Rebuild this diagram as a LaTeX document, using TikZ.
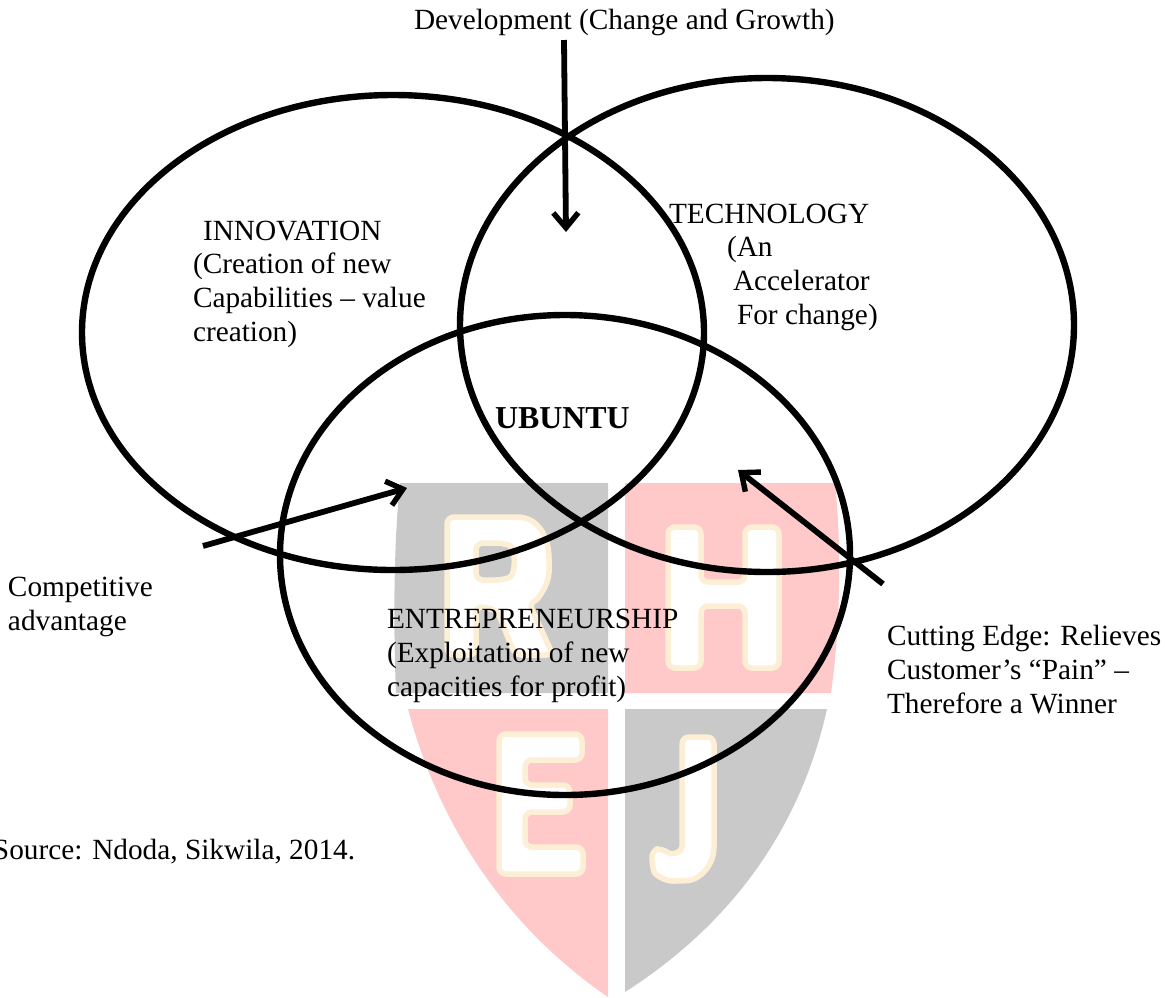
\documentclass[tikz,border=0pt]{standalone}
\usepackage{fontspec}
\setmainfont{Liberation Serif}
\usetikzlibrary{arrows.meta}
\definecolor{wmgray}{HTML}{C9C9C9}
\definecolor{wmred}{HTML}{FFC9C9}
\definecolor{wmcream}{HTML}{FDEFD5}
\tikzset{
  x=1pt,y=-1pt,
  venn/.style={draw=black,line width=6.4pt},
  pointer/.style={draw=black,line width=5.8pt,-{Straight Barb[length=15pt,width=25pt,line width=5.4pt]}},
  lbl/.style={inner sep=0pt,outer sep=0pt,anchor=base west,align=left,font=\fontsize{29.3}{33.6}\selectfont},
  letter/.style={fill=white,draw=wmcream,line width=5.5pt,rounded corners=7pt},
}
\begin{document}
\begin{tikzpicture}
\useasboundingbox (0,0) rectangle (1165,997);
% watermark shield
\fill[wmgray] (400,483) -- (608,483) -- (608,693) -- (396,693) .. controls (393,620) and (394,540) .. (400,483) -- cycle;
\fill[wmred] (625,483) -- (835,483) .. controls (842,550) and (840,630) .. (831,693) -- (625,693) -- cycle;
\fill[wmred] (408,709) -- (608,709) -- (608,997) .. controls (510,930) and (440,830) .. (408,709) -- cycle;
\fill[wmgray] (625,709) -- (827,709) .. controls (800,830) and (730,925) .. (625,992) -- cycle;
% letters
\path[letter,even odd rule] (447,517) -- (510,517) .. controls (540,517) and (549,540) .. (549,565) .. controls (549,585) and (537,600) .. (529,603) -- (553,655) -- (515,655) -- (497,610) -- (476,606) -- (476,655) -- (447,655) -- cycle
   (476,543) -- (476,580) -- (503,580) .. controls (516,575) and (516,548) .. (503,543) -- cycle;
\path[letter] (668,527) -- (701,527) -- (701,582) -- (745,582) -- (745,527) -- (779,527) -- (779,668) -- (745,668) -- (745,606) -- (701,606) -- (701,668) -- (668,668) -- cycle;
\path[letter] (499,734) -- (582,734) -- (582,760) -- (525,760) -- (525,785) -- (570,785) -- (570,812) -- (525,812) -- (525,847) -- (583,847) -- (583,874) -- (499,874) -- cycle;
\path[letter] (682,737) -- (714,737) -- (714,840) .. controls (714,865) and (700,880) .. (680,881) .. controls (665,881) and (655,875) .. (652,865) -- (652,850) -- (662,848) .. controls (672,856) and (682,852) .. (682,840) -- cycle;
% ellipses
\draw[venn] (393,332.5) ellipse [x radius=311,y radius=237.5];
\draw[venn] (767,325) ellipse [x radius=307,y radius=247];
\draw[venn] (565,555) ellipse [x radius=285,y radius=240];
% labels
\node[lbl] (dev) at (414,29) {Development (Change and Growth)};
\node[lbl] (inn) at (193,341) {\hspace*{10pt}INNOVATION\\(Creation of new\\Capabilities – value\\creation)};
\node[lbl] (tec) at (669,324) {TECHNOLOGY\\\hspace*{58pt}(An\\\hspace*{64pt}Accelerator\\\hspace*{68pt}For change)};
\node[lbl,font=\fontsize{31.9}{36}\selectfont] (ubu) at (495,428) {\textbf{UBUNTU}};
\node[lbl] (ent) at (387,696) {ENTREPRENEURSHIP\\(Exploitation of new\\capacities for profit)};
\node[lbl] (com) at (8,630) {Competitive\\advantage};
\node[lbl] (cut) at (887,713) {Cutting Edge: Relieves\\Customer’s “Pain” –\\Therefore a Winner};
\node[lbl] (src) at (-7,859) {Source: Ndoda, Sikwila, 2014.};
% arrows
\coordinate (a1s) at (564,40); \coordinate (a1e) at (566,232);
\coordinate (a2s) at (203,546); \coordinate (a2e) at (407,488);
\coordinate (a3s) at (883,584); \coordinate (a3e) at (738,470);
\draw[pointer] (a1s) -- (a1e);
\draw[pointer] (a2s) -- (a2e);
\draw[pointer] (a3s) -- (a3e);
\end{tikzpicture}
\end{document}
